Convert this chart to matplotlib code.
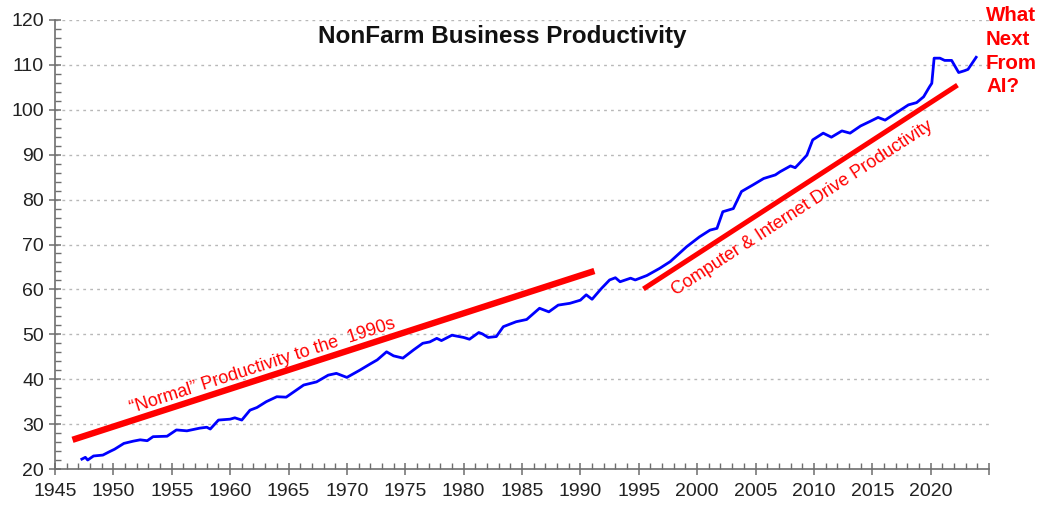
import matplotlib
matplotlib.use("Agg")
import matplotlib.pyplot as plt
import numpy as np

plt.rcParams['font.family'] = ['Liberation Sans', 'DejaVu Sans']

# Blue series: decimal year and productivity index
years = [1947.3, 1947.6, 1947.8, 1948.3, 1949.1, 1949.7, 1950.1, 1950.9, 1951.7, 1952.3,
         1952.9, 1953.4, 1954.6, 1955.4, 1956.3, 1957.4, 1958.0, 1958.3, 1959.0, 1960.0,
         1960.4, 1961.0, 1961.7, 1962.3, 1963.1, 1964.0, 1964.8, 1966.3, 1967.4, 1968.4,
         1969.1, 1970.0, 1971.1, 1972.0, 1972.6, 1973.4, 1974.0, 1974.8, 1975.7, 1976.5,
         1977.1, 1977.7, 1978.1, 1979.0, 1980.0, 1980.5, 1981.3, 1981.6, 1982.1, 1982.8,
         1983.4, 1984.5, 1985.4, 1986.5, 1987.3, 1988.1, 1989.1, 1990.0, 1990.5, 1991.0,
         1991.8, 1992.5, 1993.0, 1993.4, 1994.3, 1994.7, 1995.7, 1996.8, 1997.7, 1999.1,
         2000.2, 2001.1, 2001.7, 2002.2, 2003.1, 2003.8, 2004.8, 2005.7, 2006.7, 2007.1,
         2008.0, 2008.4, 2008.8, 2009.4, 2009.9, 2010.8, 2011.5, 2012.4, 2013.1, 2014.0,
         2014.8, 2015.5, 2016.1, 2017.1, 2018.1, 2018.8, 2019.4, 2019.9, 2020.1, 2020.3,
         2020.8, 2021.2, 2021.8, 2022.4, 2022.9, 2023.2, 2023.9]
values = [22.2, 22.6, 22.0, 22.9, 23.1, 23.9, 24.4, 25.7, 26.2, 26.5,
          26.3, 27.2, 27.3, 28.7, 28.5, 29.1, 29.3, 28.9, 30.9, 31.1,
          31.4, 30.9, 33.1, 33.7, 35.0, 36.1, 36.0, 38.7, 39.4, 40.9,
          41.3, 40.4, 42.0, 43.4, 44.3, 46.1, 45.2, 44.7, 46.5, 48.0,
          48.3, 49.1, 48.6, 49.8, 49.3, 48.9, 50.4, 50.1, 49.3, 49.5,
          51.7, 52.8, 53.3, 55.8, 55.0, 56.5, 56.9, 57.6, 58.8, 57.8,
          60.2, 62.1, 62.6, 61.7, 62.5, 62.1, 63.1, 64.7, 66.2, 69.5,
          71.7, 73.2, 73.6, 77.3, 78.0, 81.8, 83.3, 84.7, 85.5, 86.2,
          87.5, 87.1, 88.2, 89.9, 93.3, 94.8, 93.9, 95.3, 94.8, 96.4,
          97.4, 98.3, 97.7, 99.4, 101.1, 101.6, 102.9, 105.1, 105.9, 111.5,
          111.5, 111.0, 111.0, 108.3, 108.7, 109.0, 111.7]

# Red trend lines (start/end year, start/end value)
trend1_x = [1946.5, 1991.2]
trend1_y = [26.5, 64.1]
trend2_x = [1995.4, 2022.3]
trend2_y = [60.1, 105.5]

x_ticks = list(range(1945, 2021, 5))
y_ticks = list(range(20, 121, 10))

fig = plt.figure(figsize=(10.39, 5.08), dpi=100)
ax = fig.add_axes([55/1039, 1-469/508, (989-55)/1039, (469-20)/508])
ax.set_xlim(1945, 2025)
ax.set_ylim(20, 120)

for yv in y_ticks[1:]:
    ax.axhline(yv, color='#b8b8b8', lw=1.0, ls=(0, (2, 3)), zorder=0)

ax.plot(trend1_x, trend1_y, color='#ff0000', lw=4.6, solid_capstyle='butt', zorder=2)
ax.plot(trend2_x, trend2_y, color='#ff0000', lw=3.6, solid_capstyle='butt', zorder=2)
ax.plot(years, values, color='#0000ff', lw=2.0, zorder=3)

for s in ['top', 'right']:
    ax.spines[s].set_visible(False)
for s in ['left', 'bottom']:
    ax.spines[s].set_color('#6e6e6e')
    ax.spines[s].set_linewidth(1.2)

ax.set_xticks(x_ticks + [2025])
ax.set_xticklabels([str(t) for t in x_ticks] + [''])
ax.set_xticks(np.arange(1945, 2026, 1), minor=True)
ax.set_yticks(y_ticks)
ax.set_yticks(np.arange(20, 121, 2), minor=True)
ax.tick_params(axis='both', which='major', direction='inout', length=8, width=1.1,
               color='#6e6e6e', labelsize=14, labelcolor='#222222')
ax.tick_params(axis='both', which='minor', direction='in', length=4, width=1.0, color='#6e6e6e')
ax.tick_params(axis='x', pad=6)
ax.tick_params(axis='y', pad=4)

fig.text(502/1039, 1-37/508, 'NonFarm Business Productivity', ha='center', va='center',
         fontsize=17.5, fontweight='bold', color='#111111')
fig.text(986/1039, 1-6/508, 'What\nNext\nFrom\nAI?', ha='left', va='top',
         fontsize=14.8, fontweight='bold', color='#ff0000', linespacing=1.32)

fig.canvas.draw()

def disp_angle(x0, y0, x1, y1):
    p0 = ax.transData.transform((x0, y0))
    p1 = ax.transData.transform((x1, y1))
    return np.degrees(np.arctan2(p1[1]-p0[1], p1[0]-p0[0]))

a1 = disp_angle(trend1_x[0], trend1_y[0], trend1_x[1], trend1_y[1])
a2 = disp_angle(trend2_x[0], trend2_y[0], trend2_x[1], trend2_y[1])
ax.text(1962.8, 42.9, '\u201cNormal\u201d Productivity to the  1990s', rotation=a1,
        rotation_mode='anchor', ha='center', va='center', fontsize=13, color='#ff0000')
ax.text(2009.0, 78.1, 'Computer & Internet Drive Productivity', rotation=a2,
        rotation_mode='anchor', ha='center', va='center', fontsize=13, color='#ff0000')

fig.savefig('out.png', dpi=100)
